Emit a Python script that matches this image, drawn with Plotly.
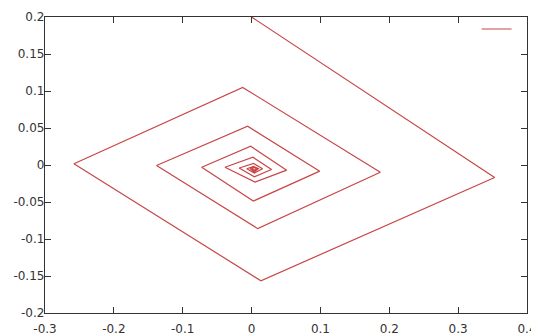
import plotly.graph_objects as go

# spiral vertices
x_vals = [0.0, 0.353, 0.0136, -0.258, -0.0129, 0.187, 0.009, -0.138, -0.0057,
          0.099, 0.0025, -0.0724, -0.0013, 0.051, 0.005, -0.0386, 0.002, 0.029,
          0.004, -0.018, 0.003, 0.016, 0.004, -0.007, 0.003, 0.010, 0.004, -0.002,
          0.003, 0.007, 0.004, 0.001, 0.003]
y_vals = [0.2, -0.0168, -0.1565, 0.0016, 0.1048, -0.0097, -0.086, -0.0007, 0.0523,
          -0.0083, -0.0487, -0.003, 0.0253, -0.007, -0.023, -0.003, 0.0105, -0.006,
          -0.016, -0.004, 0.002, -0.005, -0.011, -0.005, -0.002, -0.005, -0.009,
          -0.005, -0.003, -0.005, -0.007, -0.005, -0.005]

x_ticks = [-0.3, -0.2, -0.1, 0, 0.1, 0.2, 0.3, 0.4]
x_tick_labels = ["-0.3", "-0.2", "-0.1", "0", "0.1", "0.2", "0.3", "0.4"]
y_ticks = [-0.2, -0.15, -0.1, -0.05, 0, 0.05, 0.1, 0.15, 0.2]
y_tick_labels = ["-0.2", "-0.15", "-0.1", "-0.05", "0", "0.05", "0.1", "0.15", "0.2"]

line_color = "rgb(200,70,70)"

fig = go.Figure()
fig.add_trace(go.Scatter(x=x_vals, y=y_vals, mode="lines", name=" ",
                         line=dict(color=line_color, width=1.2), showlegend=True,
                         cliponaxis=True))

axis_common = dict(showgrid=False, zeroline=False, showline=True, linecolor="#333",
                   linewidth=1.3, mirror="allticks", ticks="inside", ticklen=6,
                   tickcolor="#333", tickwidth=1, automargin=False,
                   tickfont=dict(family="DejaVu Sans", size=12, color="#333"))

# page body has an 8px default margin; figure size/margins compensate for it
fig.update_layout(
    width=531, height=325,
    margin=dict(l=37, r=12, t=8, b=20),
    paper_bgcolor="white", plot_bgcolor="white",
    xaxis=dict(range=[-0.3, 0.4], tickvals=x_ticks, ticktext=x_tick_labels,
               ticklabelstandoff=4, **axis_common),
    yaxis=dict(range=[-0.2, 0.2], tickvals=y_ticks, ticktext=y_tick_labels,
               ticklabelstandoff=-3, **axis_common),
    legend=dict(x=0.995, y=1.005, xanchor="right", yanchor="top", bgcolor="rgba(0,0,0,0)",
                font=dict(size=11)),
)

fig.write_html("out.html")
